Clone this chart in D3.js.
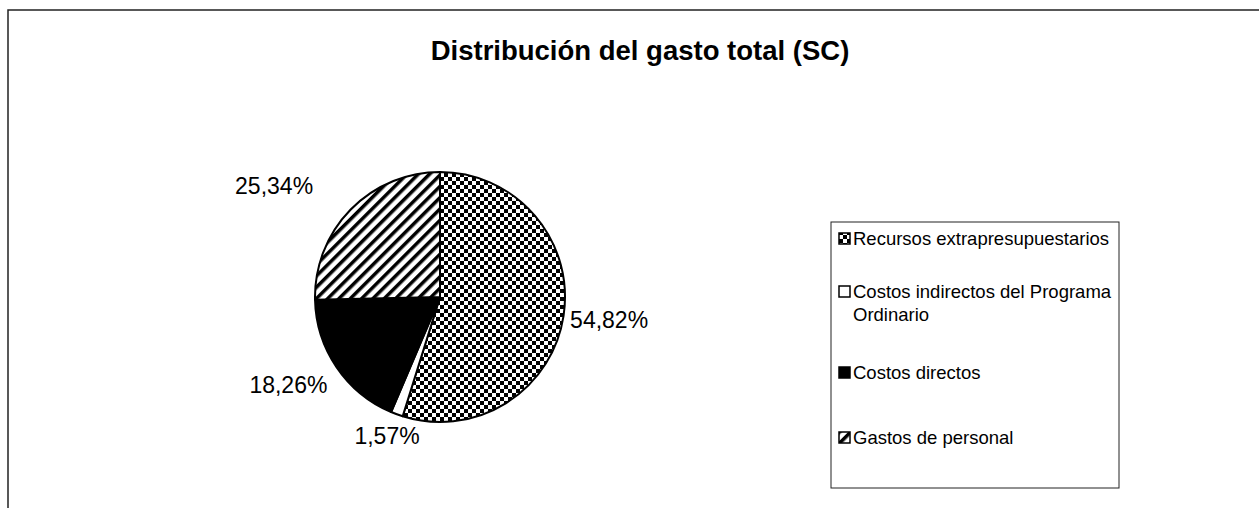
<!DOCTYPE html>
<html>
<head>
<meta charset="utf-8">
<script src="https://cdn.jsdelivr.net/npm/d3@7"></script>
<style>
  body { margin: 0; background: #fff; }
  text { font-family: Arial, "Liberation Sans", sans-serif; }
</style>
</head>
<body>
<script>
// chart data
const categories = ['Recursos extrapresupuestarios', 'Costos indirectos del Programa Ordinario', 'Costos directos', 'Gastos de personal']
const values = [54.82, 1.57, 18.26, 25.34]
const labels = ['54,82%', '1,57%', '18,26%', '25,34%']
const legendLines = [['Recursos extrapresupuestarios'], ['Costos indirectos del Programa', 'Ordinario'], ['Costos directos'], ['Gastos de personal']]

const m = { width: 1259, height: 508 }

const svg = d3.select('body').append('svg')
    .attr('width', m.width)
    .attr('height', m.height)

// fill patterns
const defs = svg.append('defs')
const checker = defs.append('pattern')
    .attr('id', 'checker')
    .attr('patternUnits', 'userSpaceOnUse')
    .attr('width', 8).attr('height', 8)
checker.append('rect').attr('width', 8).attr('height', 8).attr('fill', '#fff')
checker.append('rect').attr('width', 4).attr('height', 4).attr('fill', '#000')
checker.append('rect').attr('x', 4).attr('y', 4).attr('width', 4).attr('height', 4).attr('fill', '#000')

const stripes = defs.append('pattern')
    .attr('id', 'stripes')
    .attr('patternUnits', 'userSpaceOnUse')
    .attr('width', 8).attr('height', 8)
    .attr('patternTransform', 'rotate(45)')
stripes.append('rect').attr('width', 8).attr('height', 8).attr('fill', '#fff')
stripes.append('rect').attr('width', 3.5).attr('height', 8).attr('fill', '#000')

const fills = ['url(#checker)', '#fff', '#000', 'url(#stripes)']

// outer chart border
svg.append('rect')
    .attr('x', 8).attr('y', 10)
    .attr('width', 1270).attr('height', 520)
    .attr('fill', 'none')
    .attr('stroke', '#222')
    .attr('stroke-width', 1.5)

// title
svg.append('text')
    .attr('x', 640)
    .attr('y', 60)
    .attr('text-anchor', 'middle')
    .attr('font-size', '27.5px')
    .attr('font-weight', 'bold')
    .text('Distribución del gasto total (SC)')

// pie
const cx = 440, cy = 297, r = 125
const pie = d3.pie().sort(null).value(d => d)
const arc = d3.arc().innerRadius(0).outerRadius(r)
const arcs = pie(values)

const g = svg.append('g').attr('transform', `translate(${cx},${cy})`)
g.selectAll('path')
    .data(arcs)
    .enter()
    .append('path')
        .attr('d', arc)
        .attr('fill', (d, i) => fills[i])
        .attr('stroke', '#000')
        .attr('stroke-width', 2)
        .attr('stroke-linejoin', 'round')

// data labels, outside the slices
const labelArc = d3.arc().innerRadius(r + 40).outerRadius(r + 40)
const labelAnchor = ['start', 'middle', 'middle', 'middle']
const labelShift = [[-33, -2], [4, -16], [-15, -5], [-48, 4]]
g.selectAll('.label')
    .data(arcs)
    .enter()
    .append('text')
        .attr('class', 'label')
        .attr('x', (d, i) => labelArc.centroid(d)[0] + labelShift[i][0])
        .attr('y', (d, i) => labelArc.centroid(d)[1] + labelShift[i][1])
        .attr('dy', '0.35em')
        .attr('text-anchor', (d, i) => labelAnchor[i])
        .attr('font-size', '23px')
        .text((d, i) => labels[i])

// legend
const lg = svg.append('g').attr('transform', 'translate(831,222)')
lg.append('rect')
    .attr('width', 288).attr('height', 266)
    .attr('fill', '#fff')
    .attr('stroke', '#222')
    .attr('stroke-width', 1)

const rowY = [17, 70, 151, 216]
const rows = lg.selectAll('.row')
    .data(categories)
    .enter()
    .append('g')
        .attr('class', 'row')
        .attr('transform', (d, i) => `translate(0,${rowY[i]})`)
rows.append('rect')
    .attr('x', 8).attr('y', -6)
    .attr('width', 11).attr('height', 11)
    .attr('fill', (d, i) => fills[i])
    .attr('stroke', '#000')
    .attr('stroke-width', 1.5)
rows.append('text')
    .attr('x', 22)
    .attr('font-size', '18.5px')
    .selectAll('tspan')
    .data((d, i) => legendLines[i])
    .enter()
    .append('tspan')
        .attr('x', 22)
        .attr('dy', (d, j) => j === 0 ? '0.35em' : '1.2em')
        .text(d => d)
</script>
</body>
</html>
